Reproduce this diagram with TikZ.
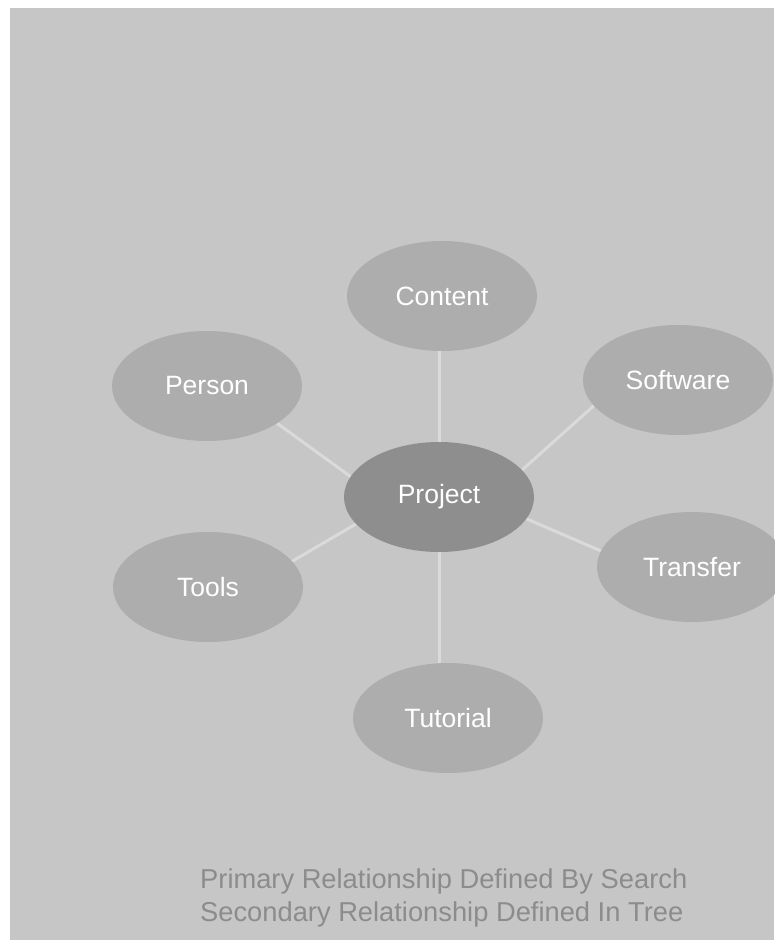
\documentclass[tikz,border=0pt]{standalone}
\usepackage{fontspec}
\setmainfont{Liberation Sans}
\usetikzlibrary{shapes.geometric,backgrounds}
\definecolor{panel}{HTML}{C6C6C6}
\definecolor{bubble}{HTML}{ADADAD}
\definecolor{hub}{HTML}{8E8E8E}
\definecolor{link}{HTML}{DADADA}
\definecolor{caption}{HTML}{8C8C8C}
\tikzset{
  topic/.style={ellipse, fill=bubble, minimum width=190pt, minimum height=110pt,
    inner sep=0pt, text=white, font=\fontsize{26.5}{30}\selectfont},
  hubnode/.style={topic, fill=hub},
  linkline/.style={draw=link, line width=3pt},
  captext/.style={text=caption, font=\fontsize{27.3}{33}\selectfont, anchor=north west,
    align=left, inner sep=0pt}
}
\begin{document}
\begin{tikzpicture}[x=1pt,y=-1pt]
  \useasboundingbox (0,0) rectangle (774,945);

  % outer topics
  \node[topic] (content) at (442,296) {Content};
  \node[topic] (person) at (207,386) {Person};
  \node[topic] (software) at (678,380) {Software};
  \node[topic] (tools) at (208,587) {Tools};
  \node[topic] (transfer) at (692,567) {Transfer};
  \node[topic] (tutorial) at (448,718) {Tutorial};

  % central hub
  \node[hubnode] (project) at (439,497) {Project};

  \node[captext] (legend) at (200,869)
    {Primary Relationship Defined By Search\\Secondary Relationship Defined In Tree};

  % panel and spokes sit behind the ellipses
  \begin{scope}[on background layer]
    \fill[white] (0,0) rectangle (774,945);
    \fill[panel] (10,8) rectangle (774,940);
    \path[linkline] (project.center) -- (project.center |- content.south);
    \path[linkline] (project.center |- tutorial.north) -- (project.center);
    \path[linkline] (person.-28) -- (project.167);
    \path[linkline] (tools.17) -- (project.198);
    \path[linkline] (software.197) -- (project.18);
    \path[linkline] (transfer.170) -- (project.-14);
  \end{scope}
\end{tikzpicture}
\end{document}
